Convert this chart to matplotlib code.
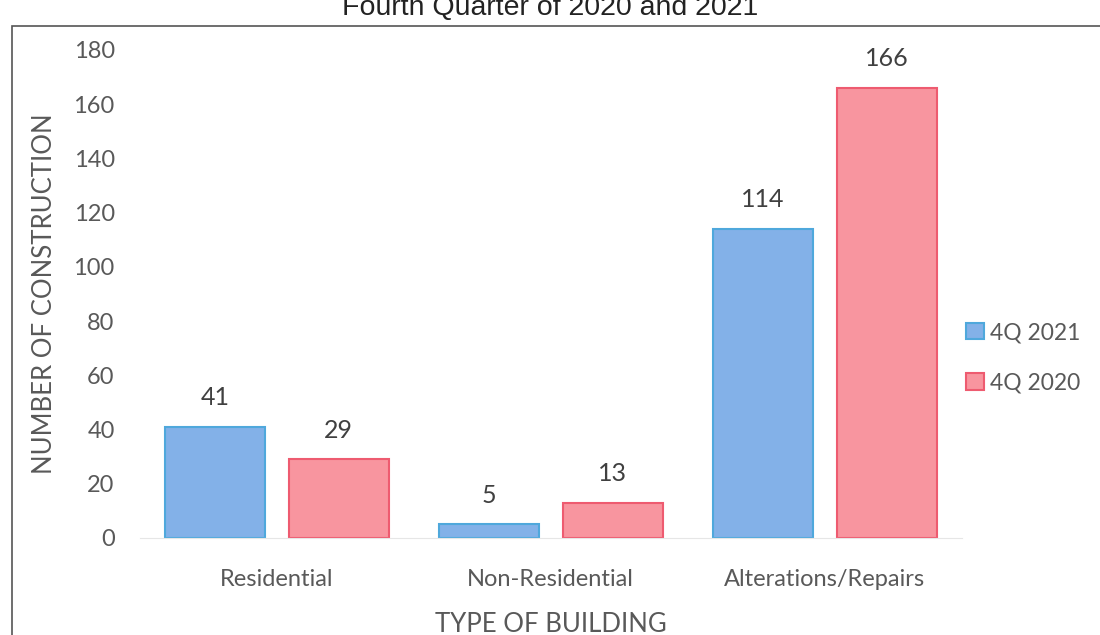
import numpy as np
import matplotlib.pyplot as plt
from matplotlib.patches import Rectangle

categories = ["Residential", "Non-Residential", "Alterations/Repairs"]
q4_2021 = [41, 5, 114]
q4_2020 = [29, 13, 166]
series_names = ["4Q 2021", "4Q 2020"]
yticks = [0, 20, 40, 60, 80, 100, 120, 140, 160, 180]

blue_fill, blue_edge = "#83B1E8", "#4FA8DC"
pink_fill, pink_edge = "#F8959F", "#EE5B70"
txt = "#595959"

plt.rcParams['font.family'] = ['Lato', 'DejaVu Sans']

fig = plt.figure(figsize=(11, 6.35), dpi=100)
ax = fig.add_axes([0.127, 0.1528, 0.7473, 0.7685])

x = np.arange(len(categories))
w = 0.365
off = 0.226
b1 = ax.bar(x - off, q4_2021, w, color=blue_fill, edgecolor=blue_edge, linewidth=1.5, label=series_names[0])
b2 = ax.bar(x + off, q4_2020, w, color=pink_fill, edgecolor=pink_edge, linewidth=1.5, label=series_names[1])

for bars in (b1, b2):
    for r in bars:
        ax.annotate(str(int(r.get_height())), (r.get_x() + r.get_width() / 2, r.get_height()),
                    xytext=(0, 21), textcoords="offset points", ha="center", va="center",
                    fontsize=18, color="#404040")

ax.set_xlim(-0.5, 2.5)
ax.set_ylim(0, 180)
ax.set_yticks(yticks)
ax.set_xticks(x)
ax.set_xticklabels(categories)
ax.tick_params(axis='both', length=0, labelsize=17, colors=txt)
ax.tick_params(axis='y', pad=18)
ax.tick_params(axis='x', pad=22)
for s in ["top", "right", "left"]:
    ax.spines[s].set_visible(False)
ax.spines["bottom"].set_color("#e6e6e6")

ax.set_ylabel("NUMBER OF CONSTRUCTION", fontsize=18.5, color=txt, labelpad=12)
ax.set_xlabel("TYPE OF BUILDING", fontsize=18.5, color=txt, labelpad=16)

leg = ax.legend(loc="center left", bbox_to_anchor=(1.0, 0.369), frameon=False,
                fontsize=16.5, labelcolor=txt, handlelength=0.75, handleheight=0.75,
                handletextpad=0.3, labelspacing=1.3, borderaxespad=0.0, borderpad=0.2)

fig.text(0.5, 1 - 15 / 635, "Fourth Quarter of 2020 and 2021", ha="center", va="baseline",
         fontsize=20.5, color="#222222", family=["Liberation Sans", "DejaVu Sans"])

fig.patches.append(Rectangle((12 / 1100, -0.1), 1.2, 1 - 26 / 635 + 0.1, transform=fig.transFigure,
                             fill=False, edgecolor="#555555", linewidth=1.2, zorder=-1))

fig.savefig("out.png", dpi=100)
